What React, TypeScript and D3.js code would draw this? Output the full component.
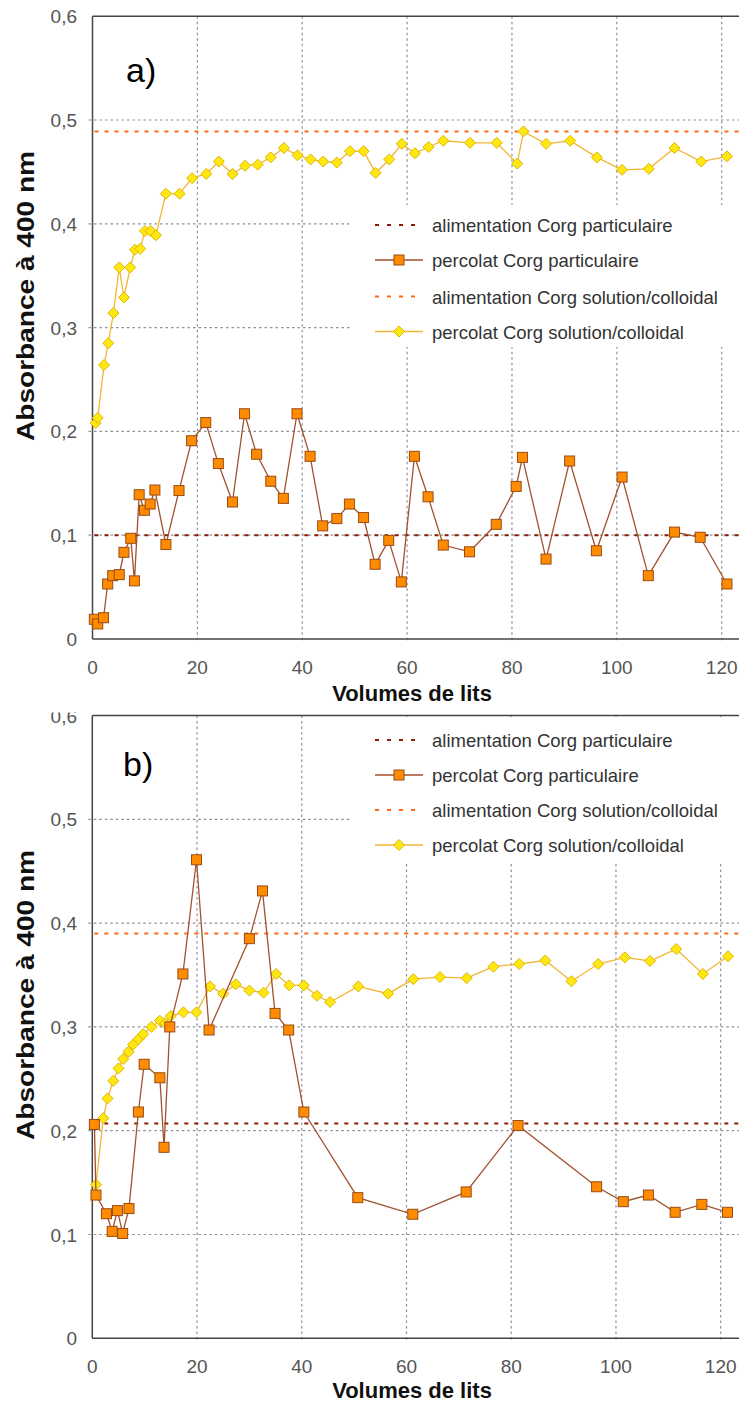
import React from "react";
import * as d3 from "d3";

type Pt = [number, number];

// ---- chart a) ----
const percolatParticulaireA: Pt[] = [
  [0.35, 0.019], [1.0, 0.0145], [2.1, 0.0205], [2.9, 0.053], [3.85, 0.061], [5.1, 0.062], [6.0, 0.0835],
  [7.3, 0.097], [8.0, 0.056], [8.9, 0.139], [9.9, 0.124], [11.0, 0.13], [11.9, 0.1435], [14.0, 0.091],
  [16.5, 0.143], [18.9, 0.191], [21.6, 0.2085], [24.0, 0.169], [26.7, 0.132], [29.0, 0.217], [31.3, 0.178],
  [34.0, 0.152], [36.4, 0.1355], [39.0, 0.217], [41.5, 0.176], [43.9, 0.109], [46.6, 0.116], [49.0, 0.13],
  [51.7, 0.117], [53.9, 0.072], [56.5, 0.095], [58.9, 0.055], [61.4, 0.176], [64.0, 0.137], [66.9, 0.0905],
  [71.9, 0.084], [77.0, 0.1105], [80.8, 0.147], [82.0, 0.175], [86.5, 0.077], [91.0, 0.1715], [96.1, 0.085],
  [101.0, 0.156], [106.0, 0.061], [111.0, 0.103], [115.9, 0.098], [121.0, 0.053],
];
const percolatSolutionA: Pt[] = [
  [0.6, 0.208], [1.0, 0.213], [2.2, 0.264], [3.0, 0.285], [4.0, 0.314], [5.1, 0.358], [6.0, 0.329],
  [7.2, 0.358], [8.1, 0.375], [9.1, 0.376], [10.0, 0.393], [11.1, 0.393], [12.1, 0.389], [14.0, 0.429],
  [16.6, 0.429], [19.0, 0.444], [21.7, 0.448], [24.1, 0.46], [26.7, 0.448], [29.1, 0.456], [31.5, 0.457],
  [34.0, 0.464], [36.5, 0.473], [39.1, 0.466], [41.6, 0.462], [44.0, 0.46], [46.6, 0.459], [49.1, 0.47],
  [51.7, 0.47], [54.0, 0.449], [56.6, 0.462], [59.0, 0.477], [61.5, 0.468], [64.1, 0.474], [66.9, 0.48],
  [72.0, 0.478], [77.1, 0.478], [81.0, 0.458], [82.2, 0.489], [86.5, 0.477], [91.1, 0.48], [96.2, 0.464],
  [101.0, 0.452], [106.1, 0.453], [111.0, 0.473], [116.1, 0.46], [121.0, 0.465],
];
const alimParticulaireA = 0.1;
const alimSolutionA = 0.489;

// ---- chart b) ----
const percolatParticulaireB: Pt[] = [
  [0.4, 0.206], [0.7, 0.138], [2.7, 0.12], [3.8, 0.103], [4.8, 0.123], [5.8, 0.101], [7.0, 0.125],
  [8.8, 0.218], [9.9, 0.264], [12.9, 0.251], [13.7, 0.184], [14.8, 0.3], [17.3, 0.351], [19.9, 0.461],
  [22.3, 0.297], [30.0, 0.385], [32.5, 0.431], [34.9, 0.313], [37.5, 0.297], [40.4, 0.218], [50.7, 0.1355],
  [61.2, 0.1195], [71.4, 0.141], [81.3, 0.205], [96.3, 0.146], [101.4, 0.1316], [106.2, 0.138],
  [111.3, 0.1214], [116.4, 0.129], [121.3, 0.1214],
];
const percolatSolutionB: Pt[] = [
  [0.7, 0.148], [2.1, 0.212], [2.9, 0.231], [4.0, 0.248], [5.0, 0.26], [5.9, 0.269], [6.9, 0.276],
  [7.8, 0.283], [8.8, 0.288], [9.7, 0.293], [11.3, 0.3], [12.9, 0.306], [13.9, 0.3035], [15.0, 0.3105],
  [17.4, 0.314], [19.9, 0.314], [22.5, 0.339], [25.0, 0.332], [27.4, 0.341], [30.0, 0.335], [32.7, 0.333],
  [35.1, 0.351], [37.6, 0.34], [40.4, 0.34], [42.9, 0.33], [45.4, 0.324], [50.8, 0.339], [56.5, 0.332],
  [61.3, 0.346], [66.4, 0.348], [71.5, 0.347], [76.6, 0.358], [81.5, 0.3606], [86.5, 0.364], [91.5, 0.344],
  [96.6, 0.3606], [101.7, 0.367], [106.5, 0.3635], [111.5, 0.375], [116.6, 0.351], [121.4, 0.368],
];
const alimParticulaireB = 0.207;
const alimSolutionB = 0.39;

const xTicks = [0, 20, 40, 60, 80, 100, 120];
const yTicks = [0, 0.1, 0.2, 0.3, 0.4, 0.5, 0.6];
const legendLabels = [
  "alimentation Corg particulaire",
  "percolat Corg particulaire",
  "alimentation Corg solution/colloidal",
  "percolat Corg solution/colloidal",
];
const xTitle = "Volumes de lits";
const yTitle = "Absorbance à 400 nm";

const FONT = "'Liberation Sans', Arial, Helvetica, sans-serif";
const C_PART_LINE = "#a0522d";
const C_PART_FILL = "#ff8c00";
const C_PART_STROKE = "#9a4a14";
const C_ALIM_PART = "#8b1e00";
const C_ALIM_SOL = "#ff6a1a";
const C_SOL_LINE = "#f2b632";
const C_SOL_FILL = "#ffe812";
const C_SOL_STROKE = "#e0b400";
const C_GRID = "#8e909c";

function Square({ x, y }: { x: number; y: number }) {
  const s = 10;
  return <rect x={x - s / 2} y={y - s / 2} width={s} height={s} fill={C_PART_FILL} stroke={C_PART_STROKE} strokeWidth={1} />;
}
function Diamond({ x, y }: { x: number; y: number }) {
  const r = 5.5;
  return (
    <path d={`M${x},${y - r}L${x + r},${y}L${x},${y + r}L${x - r},${y}Z`} fill={C_SOL_FILL} stroke={C_SOL_STROKE} strokeWidth={1} />
  );
}

type PanelProps = {
  label: string;
  top: number;
  bottom: number;
  x0: number;
  x120: number;
  part: Pt[];
  sol: Pt[];
  alimPart: number;
  alimSol: number;
  legendTop: number;
  legendBottom: number;
  legendRows: number[];
  labelY: number;
  labelX: number;
  xTitleY: number;
  yTitleCenter: number;
  clipTopLabel?: boolean;
};

function Panel(p: PanelProps) {
  const x = d3.scaleLinear().domain([0, 120]).range([p.x0, p.x120]);
  const y = d3.scaleLinear().domain([0, 0.6]).range([p.bottom, p.top]);
  const left = p.x0;
  const right = 745;
  const line = d3
    .line<Pt>()
    .x((d) => x(d[0]))
    .y((d) => y(d[1]));
  const legendLeft = 350;
  return (
    <g>
      {/* grid */}
      {xTicks.slice(1).map((t) => (
        <line key={"gx" + t} x1={x(t)} x2={x(t)} y1={p.top} y2={p.bottom + 4} stroke={C_GRID} strokeWidth={1.2} strokeDasharray="2.5,3" />
      ))}
      {yTicks.slice(1, 6).map((t) => (
        <line key={"gy" + t} x1={left - 4} x2={right} y1={y(t)} y2={y(t)} stroke={C_GRID} strokeWidth={1.2} strokeDasharray="2.5,3" />
      ))}
      {/* legend background */}
      <rect x={legendLeft} y={p.legendTop} width={right - legendLeft} height={p.legendBottom - p.legendTop} fill="#fff" />
      {/* frame */}
      <line x1={left} x2={right} y1={p.top} y2={p.top} stroke="#444" strokeWidth={1.5} />
      <line x1={left} x2={left} y1={p.top} y2={p.bottom} stroke="#444" strokeWidth={1.5} />
      <line x1={left} x2={right} y1={p.bottom} y2={p.bottom} stroke="#444" strokeWidth={1.5} />
      {/* reference lines */}
      <line x1={left + 2} x2={right} y1={y(p.alimPart)} y2={y(p.alimPart)} stroke={C_ALIM_PART} strokeWidth={2} strokeDasharray="4,6" />
      <line x1={left + 2} x2={right} y1={y(p.alimSol)} y2={y(p.alimSol)} stroke={C_ALIM_SOL} strokeWidth={2} strokeDasharray="4,6" />
      {/* series */}
      <path d={line(p.sol) || ""} fill="none" stroke={C_SOL_LINE} strokeWidth={1.3} />
      {p.sol.map((d, i) => (
        <Diamond key={"s" + i} x={x(d[0])} y={y(d[1])} />
      ))}
      <path d={line(p.part) || ""} fill="none" stroke={C_PART_LINE} strokeWidth={1.3} />
      {p.part.map((d, i) => (
        <Square key={"p" + i} x={x(d[0])} y={y(d[1])} />
      ))}
      {/* y tick labels */}
      {yTicks.map((t) => (
        <text key={"ty" + t} x={77} y={y(t) + 7} textAnchor="end" fontSize={19} fill="#555" fontFamily={FONT}>
          {t === 0 ? "0" : t.toFixed(1).replace(".", ",")}
        </text>
      ))}
      {p.clipTopLabel && <rect x={38} y={p.top - 20} width={48} height={17} fill="#fff" />}
      {/* x tick labels */}
      {xTicks.map((t) => (
        <text key={"tx" + t} x={x(t)} y={p.bottom + 35} textAnchor="middle" fontSize={19} fill="#555" fontFamily={FONT}>
          {t}
        </text>
      ))}
      {/* titles */}
      <text x={412} y={p.xTitleY} textAnchor="middle" fontSize={22} fontWeight="bold" fill="#111" fontFamily={FONT}>
        {xTitle}
      </text>
      <text
        transform={`translate(34,${p.yTitleCenter}) rotate(-90)`}
        textAnchor="middle"
        fontSize={23}
        fontWeight="bold"
        fill="#111"
        fontFamily={FONT}
        textLength={290}
        lengthAdjust="spacingAndGlyphs"
      >
        {yTitle}
      </text>
      <text x={p.labelX} y={p.labelY} fontSize={34} fill="#000" fontFamily={FONT}>
        {p.label}
      </text>
      {/* legend */}
      {legendLabels.map((lab, i) => {
        const cy = p.legendRows[i];
        return (
          <g key={"lg" + i}>
            {i === 0 && <line x1={375} x2={423} y1={cy} y2={cy} stroke={C_ALIM_PART} strokeWidth={2} strokeDasharray="4,8" />}
            {i === 2 && <line x1={375} x2={423} y1={cy} y2={cy} stroke={C_ALIM_SOL} strokeWidth={2} strokeDasharray="4,8" />}
            {i === 1 && (
              <g>
                <line x1={375} x2={423} y1={cy} y2={cy} stroke={C_PART_LINE} strokeWidth={1.3} />
                <Square x={399} y={cy} />
              </g>
            )}
            {i === 3 && (
              <g>
                <line x1={375} x2={423} y1={cy} y2={cy} stroke={C_SOL_LINE} strokeWidth={1.3} />
                <Diamond x={399} y={cy} />
              </g>
            )}
            <text x={432} y={cy + 7} fontSize={18.5} fill="#333" fontFamily={FONT}>
              {lab}
            </text>
          </g>
        );
      })}
    </g>
  );
}

export default function App() {
  return (
    <svg width={739} height={1403} style={{ position: "absolute", left: 0, top: 0, background: "#fff" }}>
      <rect x={0} y={0} width={739} height={1403} fill="#fff" />
      <Panel
        label="a)"
        top={16.2}
        bottom={639}
        x0={92.5}
        x120={721.7}
        part={percolatParticulaireA}
        sol={percolatSolutionA}
        alimPart={alimParticulaireA}
        alimSol={alimSolutionA}
        legendTop={205}
        legendBottom={347}
        legendRows={[225, 260, 296.5, 331.5]}
        labelX={126}
        labelY={82}
        xTitleY={701}
        yTitleCenter={296}
      />
      <Panel
        label="b)"
        top={715.5}
        bottom={1338.3}
        x0={92.3}
        x120={720.7}
        part={percolatParticulaireB}
        sol={percolatSolutionB}
        alimPart={alimParticulaireB}
        alimSol={alimSolutionB}
        legendTop={717}
        legendBottom={862}
        legendRows={[740, 775, 810, 845]}
        labelX={123}
        labelY={776}
        xTitleY={1398}
        yTitleCenter={995}
        clipTopLabel
      />
    </svg>
  );
}
